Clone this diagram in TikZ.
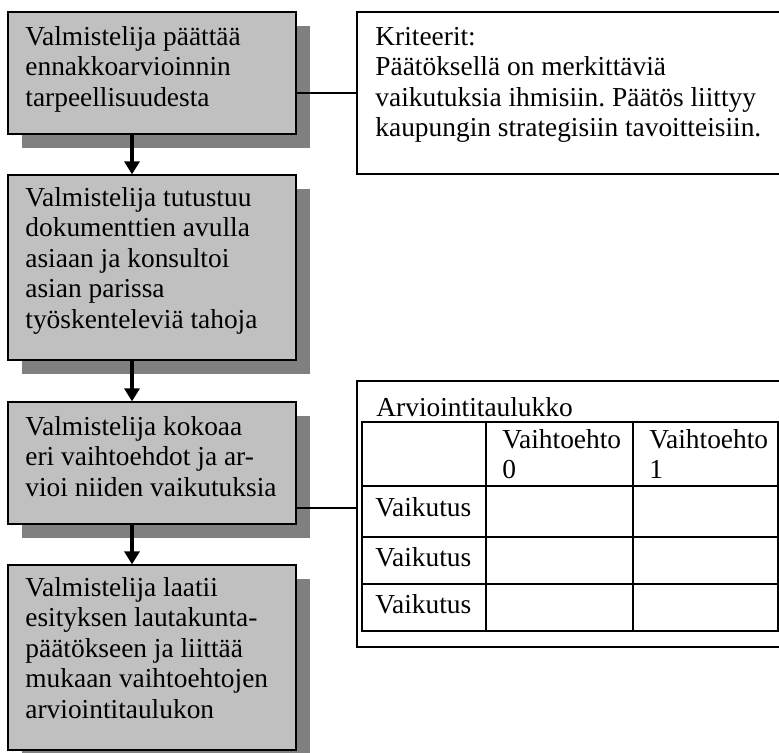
\documentclass[tikz,border=0pt]{standalone}
\usepackage{fontspec}
\setmainfont{Liberation Serif}
\usetikzlibrary{arrows.meta,fit,shadows}
\definecolor{boxgray}{HTML}{C0C0C0}
\definecolor{shadowgray}{HTML}{808080}
\frenchspacing
\begin{document}
\begin{tikzpicture}[x=0.5pt,y=-0.5pt,
  stepbox/.style={draw=black, line width=0.65pt, fill=boxgray, inner sep=0pt,
    general shadow={fill=shadowgray, shadow xshift=7pt, shadow yshift=-7pt}},
  framebox/.style={draw=black, line width=0.8pt, inner sep=0pt},
  txt/.style={anchor=base west, inner sep=0pt, font=\fontsize{13.7pt}{15.25pt}\selectfont\frenchspacing},
  arr/.style={line width=1.6pt, -{Triangle[width=7.5pt,length=6.5pt]}},
  link/.style={line width=0.6pt},
  thick rule/.style={line width=1pt},
  thin rule/.style={line width=0.6pt}]
\useasboundingbox (0,0) rectangle (779,752);
% step boxes
\coordinate (b1a) at (8,12);  \coordinate (b1b) at (296,134);
\coordinate (b2a) at (8,175); \coordinate (b2b) at (296,360);
\coordinate (b3a) at (8,402); \coordinate (b3b) at (296,524);
\coordinate (b4a) at (8,565); \coordinate (b4b) at (296,750);
\node[stepbox, fit=(b1a)(b1b)] (b1) {};
\node[stepbox, fit=(b2a)(b2b)] (b2) {};
\node[stepbox, fit=(b3a)(b3b)] (b3) {};
\node[stepbox, fit=(b4a)(b4b)] (b4) {};
\node[txt] (t1) at (25,45) {\parbox[t]{200pt}{Valmistelija päättää\\ennakkoarvioinnin\\tarpeellisuudesta}};
\node[txt] (t2) at (25,206) {\parbox[t]{200pt}{Valmistelija tutustuu\\dokumenttien avulla\\asiaan ja konsultoi\\asian parissa\\työskenteleviä tahoja}};
\node[txt] (t3) at (25,435) {\parbox[t]{200pt}{Valmistelija kokoaa\\eri vaihtoehdot ja ar-\\vioi niiden vaikutuksia}};
\node[txt] (t4) at (25,596) {\parbox[t]{200pt}{Valmistelija laatii\\esityksen lautakunta-\\päätökseen ja liittää\\mukaan vaihtoehtojen\\arviointitaulukon}};
% arrows
\coordinate (ax) at (132,0);
\draw[arr] (b1.south -| ax) -- (b2.north -| ax);
\draw[arr] (b2.south -| ax) -- (b3.north -| ax);
\draw[arr] (b3.south -| ax) -- (b4.north -| ax);
% criteria box
\coordinate (ka) at (357,12); \coordinate (kb) at (800,174);
\node[framebox, fit=(ka)(kb)] (k) {};
\node[txt] (kt) at (375,45) {\parbox[t]{250pt}{Kriteerit:\\Päätöksellä on merkittäviä\\vaikutuksia ihmisiin. Päätös liittyy\\kaupungin strategisiin tavoitteisiin.}};
\coordinate (c1) at (0,93);
\draw[link] (b1.east |- c1) -- (k.west |- c1);
% table box
\coordinate (ta) at (357,381); \coordinate (tb) at (800,647);
\node[framebox, fit=(ta)(tb)] (tbox) {};
\coordinate (c3) at (0,508);
\draw[link] (b3.east |- c3) -- (tbox.west |- c3);
\node[txt] (tt) at (376,416) {Arviointitaulukko};
% table grid
\draw[thin rule] (486,422) -- (486,631);
\draw[thin rule] (633,422) -- (633,631);
\draw[thick rule] (362,486) -- (778,486);
\draw[thin rule] (362,537) -- (778,537);
\draw[thick rule] (362,584) -- (778,584);
\draw[thick rule] (362,422) rectangle (778,631);
\node[txt] (h1) at (502,448) {\parbox[t]{100pt}{Vaihtoehto\\0}};
\node[txt] (h2) at (649,448) {\parbox[t]{100pt}{Vaihtoehto\\1}};
\node[txt] (r1) at (375,516) {Vaikutus};
\node[txt] (r2) at (375,566) {Vaikutus};
\node[txt] (r3) at (375,613) {Vaikutus};
\end{tikzpicture}
\end{document}
